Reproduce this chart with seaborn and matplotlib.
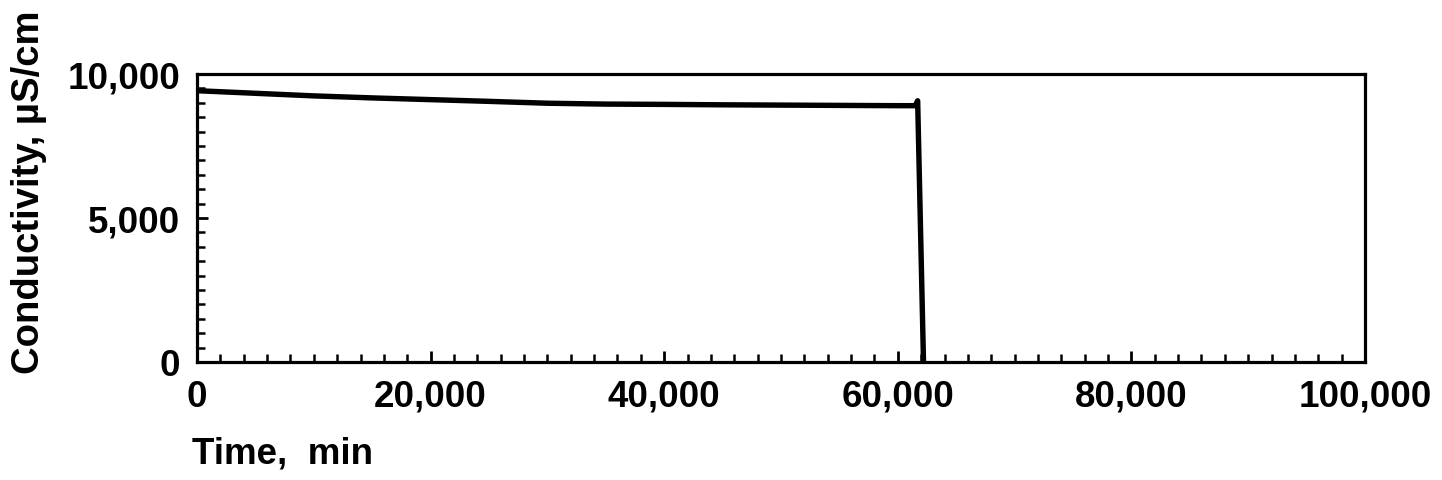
import matplotlib
matplotlib.use("Agg")
import matplotlib.pyplot as plt
import seaborn as sns
import pandas as pd
from matplotlib.ticker import MultipleLocator, FuncFormatter

# ---- data ----
time_min = [0, 5000, 10000, 15000, 20000, 25000, 30000, 35000, 40000,
            45000, 50000, 55000, 60000, 61500, 61700, 62200]
conductivity = [9420, 9330, 9240, 9170, 9110, 9050, 8985, 8955, 8945,
                8930, 8920, 8910, 8900, 8900, 9070, 0]
x_ticks = [0, 20000, 40000, 60000, 80000, 100000]
y_ticks = [0, 5000, 10000]

df = pd.DataFrame({"Time": time_min, "Conductivity": conductivity})

sns.set_style("ticks")
plt.rcParams["font.family"] = ["Liberation Sans", "DejaVu Sans"]
plt.rcParams["font.weight"] = "bold"
plt.rcParams["text.color"] = "black"
plt.rcParams["axes.labelcolor"] = "black"
plt.rcParams["xtick.color"] = "black"
plt.rcParams["ytick.color"] = "black"

fig = plt.figure(figsize=(14.42, 4.81), dpi=100)
ax = fig.add_axes([197 / 1442, 118 / 481, 1168 / 1442, 288 / 481])

sns.lineplot(data=df, x="Time", y="Conductivity", ax=ax, sort=False,
             color="black", linewidth=3.9, estimator=None)

ax.set_xlim(0, 100000)
ax.set_ylim(0, 10000)

fmt = FuncFormatter(lambda v, p: f"{int(v):,}")
ax.set_xticks(x_ticks)
ax.set_yticks(y_ticks)
ax.xaxis.set_major_formatter(fmt)
ax.yaxis.set_major_formatter(fmt)
ax.xaxis.set_minor_locator(MultipleLocator(2000))
ax.yaxis.set_minor_locator(MultipleLocator(500))

ax.tick_params(axis="both", which="both", direction="in", color="black",
               labelcolor="black", labelsize=26.5, top=False, right=False)
ax.tick_params(axis="both", which="major", length=8, width=2)
ax.tick_params(axis="both", which="minor", length=6, width=1.8)
ax.tick_params(axis="x", which="major", pad=12)
ax.tick_params(axis="y", which="major", pad=12)
for lab in ax.get_xticklabels() + ax.get_yticklabels():
    lab.set_fontweight("bold")

for side in ["left", "right", "top", "bottom"]:
    ax.spines[side].set_visible(True)
    ax.spines[side].set_linewidth(2.3)
    ax.spines[side].set_color("black")

ax.set_xlabel("Time,  min", fontsize=26.5, fontweight="bold", ha="left",
              color="black")
ax.xaxis.set_label_coords(-0.004, -0.255)
ax.xaxis.label.set_va("top")

ax.set_ylabel("Conductivity, \u00b5S/cm", fontsize=27.5, fontweight="bold",
              color="black")
ax.yaxis.set_label_coords(-0.128, 0.592)
ax.yaxis.label.set_va("bottom")
ax.yaxis.label.set_ha("center")

ax.grid(False)
fig.savefig("out.png", dpi=100, facecolor="white")
